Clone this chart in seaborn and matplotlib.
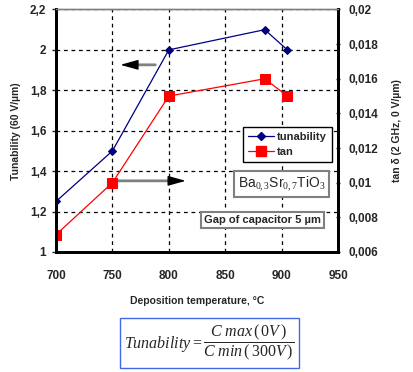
import matplotlib

matplotlib.use("Agg")
import matplotlib.pyplot as plt
import pandas as pd
import seaborn as sns
from matplotlib.lines import Line2D
from matplotlib.ticker import FuncFormatter

NAVY = "#000080"
RED = "#FF0000"

temperature = [700, 750, 800, 885, 905]
tunability = [1.25, 1.5, 2.0, 2.1, 2.0]
tan_delta = [0.007, 0.010, 0.015, 0.016, 0.015]

x_ticks = [700, 750, 800, 850, 900, 950]
left_ticks = [1.0, 1.2, 1.4, 1.6, 1.8, 2.0, 2.2]
right_ticks = [0.006, 0.008, 0.010, 0.012, 0.014, 0.016, 0.018, 0.020]

sns.set_theme(style="white")
plt.rcParams["font.family"] = ["Liberation Sans", "DejaVu Sans"]
plt.rcParams["mathtext.fontset"] = "custom"
plt.rcParams["mathtext.rm"] = "Liberation Serif"
plt.rcParams["mathtext.it"] = "Liberation Serif:italic"

data = pd.DataFrame({"temp": temperature, "tun": tunability, "tan": tan_delta})


def comma(v, _pos):
    s = f"{v:.3f}".rstrip("0").rstrip(".")
    return s.replace(".", ",")


fig = plt.figure(figsize=(4.13, 3.72), dpi=100)
ax = fig.add_axes([0.1356, 0.3226, 0.683, 0.652])
ax2 = ax.twinx()

sns.lineplot(data=data, x="temp", y="tun", ax=ax, color=NAVY, marker="D",
             markersize=4.5, markeredgecolor=NAVY, linewidth=0.9)
sns.lineplot(data=data, x="temp", y="tan", ax=ax2, color=RED, marker="s",
             markersize=6.5, markeredgecolor=RED, linewidth=0.9)

ax.set_xlim(700, 950)
ax.set_ylim(1.0, 2.2)
ax2.set_ylim(0.006, 0.020)
ax.set_xticks(x_ticks)
ax.set_yticks(left_ticks)
ax2.set_yticks(right_ticks)
ax.yaxis.set_major_formatter(FuncFormatter(comma))
ax2.yaxis.set_major_formatter(FuncFormatter(comma))

for a in (ax, ax2):
    for s in ("left", "bottom", "right"):
        a.spines[s].set_color("black")
        a.spines[s].set_linewidth(2)
    a.spines["top"].set_color("#808080")
    a.spines["top"].set_linewidth(1)
    a.set_xlabel("")
    a.set_ylabel("")

ax.grid(True, color="black", linestyle=(0, (3, 3)), linewidth=0.9)
ax.tick_params(axis="both", labelsize=8.5, length=3, width=1, direction="out", pad=4)
ax2.tick_params(axis="y", labelsize=8.5, length=3, width=1, direction="inout", pad=6)
for lab in ax.get_xticklabels() + ax.get_yticklabels() + ax2.get_yticklabels():
    lab.set_fontweight("bold")
ax.tick_params(axis="x", pad=10)

ax.set_ylabel("Tunability (60 V/µm)", fontsize=7.5, fontweight="bold", labelpad=6)
ax2.set_ylabel("tan δ (2 GHz, 0 V/µm)", fontsize=7.5, fontweight="bold", labelpad=10)
ax.set_xlabel("Deposition temperature, °C", fontsize=7.5, fontweight="bold", labelpad=10)

shaft = dict(arrowstyle="-", color="#808080", lw=2, shrinkA=0, shrinkB=0)
head = dict(arrowstyle="-|>,head_length=0.9,head_width=0.25", color="black",
            lw=1, shrinkA=0, shrinkB=0)
ax.annotate("", xy=(763, 1.926), xytext=(788, 1.926), arrowprops=shaft)
ax.annotate("", xy=(757, 1.926), xytext=(770, 1.926), arrowprops=head)
ax.annotate("", xy=(808, 1.352), xytext=(752, 1.352), arrowprops=shaft)
ax.annotate("", xy=(815, 1.352), xytext=(800, 1.352), arrowprops=head)

handles = [
    Line2D([], [], color=NAVY, marker="D", markersize=4.5, linewidth=0.9, label="tunability"),
    Line2D([], [], color=RED, marker="s", markersize=6.5, linewidth=0.9, label="tan"),
]
leg = ax2.legend(handles=handles, loc="upper left", bbox_to_anchor=(0.663, 0.515),
                 fancybox=False, edgecolor="black", framealpha=1,
                 prop={"weight": "bold", "size": 8}, handlelength=2.3,
                 handletextpad=0.3, borderpad=0.45, labelspacing=0.45, borderaxespad=0)
leg.get_frame().set_linewidth(1)

ax2.text(0.80, 0.28, r"Ba$_{0,3}$Sr$_{0,7}$TiO$_3$", transform=ax2.transAxes,
         ha="center", va="center", fontsize=10,
         bbox=dict(boxstyle="square,pad=0.25", facecolor="white", edgecolor="#808080", lw=1.5))
ax2.text(0.732, 0.132, "Gap of capacitor 5 µm", transform=ax2.transAxes,
         ha="center", va="center", fontsize=8, fontweight="bold",
         bbox=dict(boxstyle="square,pad=0.3", facecolor="white", edgecolor="#808080", lw=1.5))

fig.text(0.507, 0.077, r"$\mathit{Tunability} = \dfrac{\mathit{C\ max}\,(\,\mathit{0V}\,)}{\mathit{C\ min}\,(\,\mathit{300V}\,)}$",
         ha="center", va="center", fontsize=11.5,
         bbox=dict(boxstyle="square,pad=0.3", facecolor="white", edgecolor="#4169E1", lw=1))

fig.savefig("out.png", dpi=100)
